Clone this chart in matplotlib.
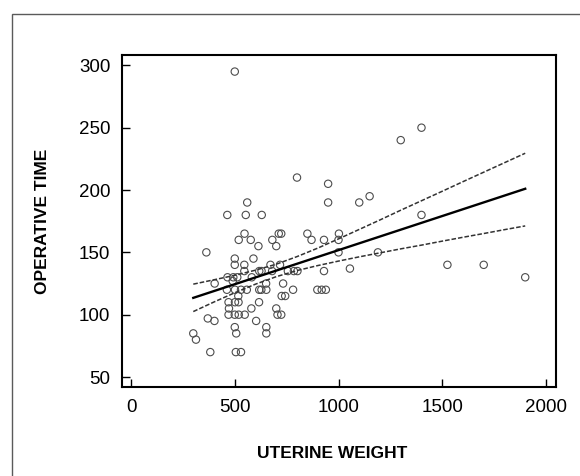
import matplotlib
matplotlib.use("Agg")
import matplotlib.pyplot as plt
from matplotlib.patches import Rectangle

# ---- data ----
weight = [500, 1400, 1300, 800, 950, 950, 1100, 1150, 560, 464, 553, 630, 1400,
          547, 712, 724, 850, 1002, 519, 577, 681, 870, 930, 1000, 614, 700,
          363, 1000, 1190, 500, 590, 500, 546, 672, 718, 1525, 1700,
          546, 618, 629, 680, 756, 785, 802, 930, 1055, 1900,
          465, 493, 512, 582, 403, 651, 733,
          462, 501, 530, 558, 618, 628, 652, 781, 898, 919, 939,
          470, 501, 518, 517, 617, 726, 743, 472, 580, 700,
          470, 500, 519, 548, 706, 724, 370, 402, 603,
          500, 507, 652, 652, 300, 313, 382, 505, 530, 490]
optime = [295, 250, 240, 210, 205, 190, 190, 195, 190, 180, 180, 180, 180,
          165, 165, 165, 165, 165, 160, 160, 160, 160, 160, 160, 155, 155,
          150, 150, 150, 145, 145, 140, 140, 140, 140, 140, 140,
          135, 135, 135, 135, 135, 135, 135, 135, 137, 130,
          130, 130, 130, 130, 125, 125, 125,
          120, 120, 120, 120, 120, 120, 120, 120, 120, 120, 120,
          110, 110, 110, 115, 110, 115, 115, 105, 105, 105,
          100, 100, 100, 100, 100, 100, 97, 95, 95,
          90, 85, 90, 85, 85, 80, 70, 70, 70, 127]

fit_x = [300, 1900]
fit_y = [113.5, 201.0]

band_x = [300, 400, 500, 600, 700, 800, 900, 1000, 1100, 1200, 1300, 1400,
          1500, 1600, 1700, 1800, 1900]
band_upper = [124.5, 128.0, 131.6, 135.7, 140.5, 146.6, 153.4, 160.8, 168.4,
              176.0, 183.8, 191.4, 199.0, 206.7, 214.3, 221.9, 229.5]
band_lower = [102.5, 110.2, 117.6, 124.5, 130.5, 135.4, 139.4, 143.0, 146.4,
              149.6, 152.8, 155.8, 159.0, 162.1, 165.1, 168.2, 171.2]

x_ticks = [0, 500, 1000, 1500, 2000]
y_ticks = [50, 100, 150, 200, 250, 300]

plt.rcParams['font.family'] = ['Liberation Sans', 'DejaVu Sans']

fig = plt.figure(figsize=(5.8, 4.76), dpi=100)
fig.patch.set_facecolor('white')

# outer frame of the figure panel
fig.patches.append(Rectangle((12 / 580, -0.05), 1.2, 0.05 + 1 - 14 / 476,
                             transform=fig.transFigure, fill=False,
                             edgecolor='#5a5a5a', linewidth=1.0))

ax = fig.add_axes([121.5 / 580, 1 - 387 / 476, 434 / 580, 332 / 476])

ax.scatter(weight, optime, s=28, facecolors='none', edgecolors='#4d4d4d',
           linewidths=0.8, zorder=3)
ax.plot(fit_x, fit_y, color='black', lw=1.7, zorder=4)
ax.plot(band_x, band_upper, color='#333333', lw=1.1, ls=(0, (3, 1.3)), zorder=4)
ax.plot(band_x, band_lower, color='#333333', lw=1.1, ls=(0, (3, 1.3)), zorder=4)

ax.set_xlim(-46, 2046)
ax.set_ylim(42, 308.3)
ax.set_xticks(x_ticks)
ax.set_yticks(y_ticks)
ax.tick_params(direction='in', length=6, width=1.0, labelsize=13.5,
               colors='black', pad=8)
ax.tick_params(axis='x', pad=9)
for s in ax.spines.values():
    s.set_linewidth(1.5)
    s.set_color('black')

ax.set_xlabel('UTERINE WEIGHT', fontsize=12.5, fontweight='bold')
ax.set_ylabel('OPERATIVE TIME', fontsize=12.5, fontweight='bold')
ax.xaxis.set_label_coords((332 - 121.5) / 434, -(453 - 387) / 332)
ax.yaxis.set_label_coords(-(121.5 - 42.5) / 434, 0.5)
ax.xaxis.label.set_va('center')
ax.yaxis.label.set_va('center')

fig.savefig('out.png', dpi=100)
